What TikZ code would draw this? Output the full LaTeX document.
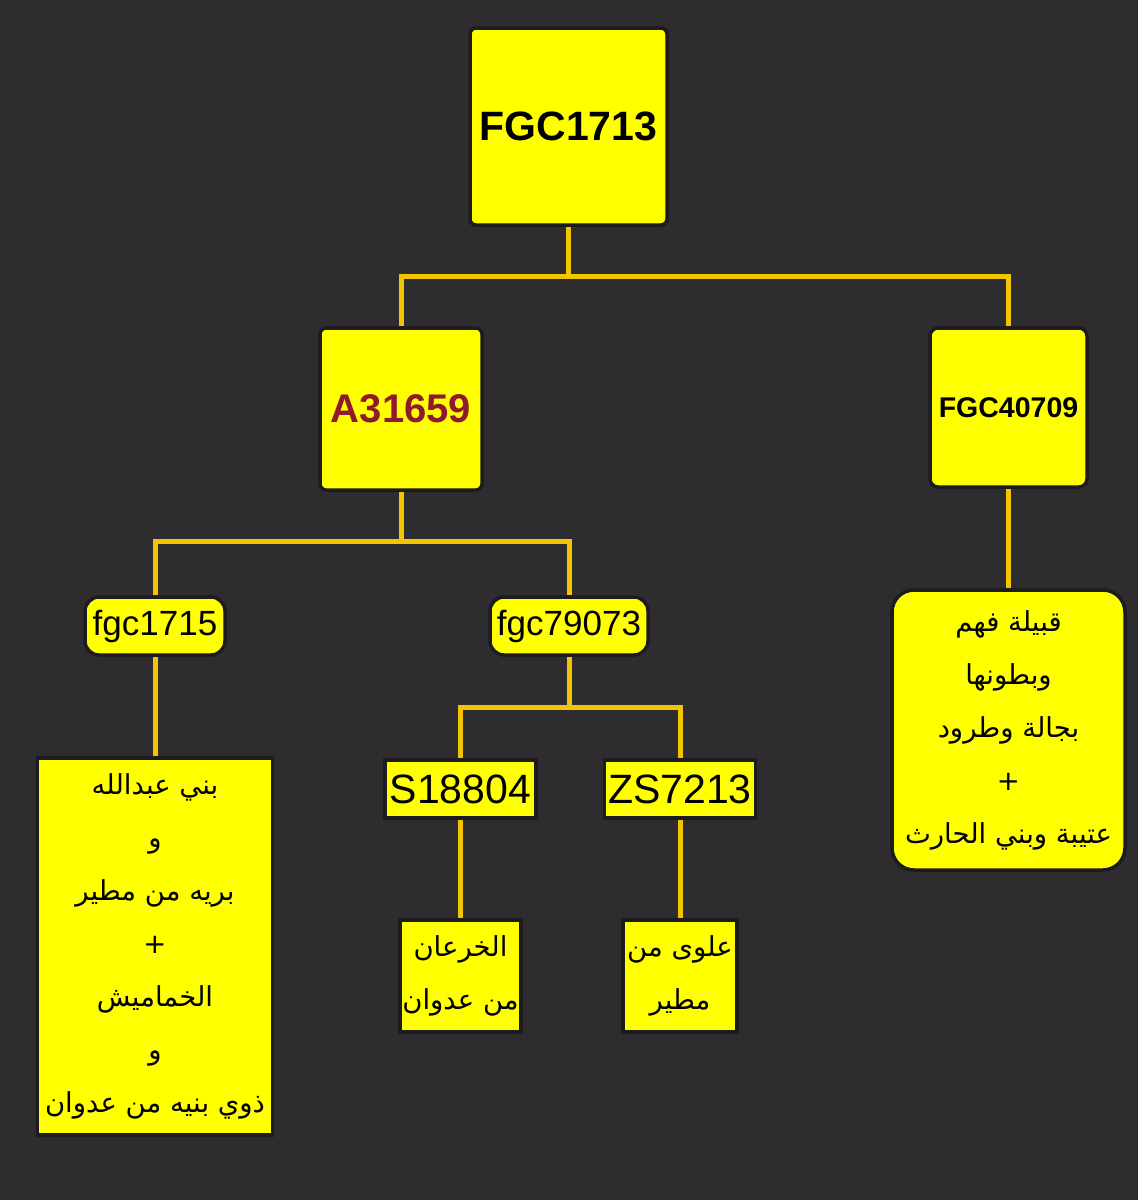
\documentclass[tikz,border=0pt]{standalone}
\usepackage{fontspec}
\setmainfont{Liberation Sans}
\newfontfamily\arabicfont[Script=Arabic]{DejaVu Sans}
\TeXXeTstate=1
\newcommand{\rtl}[1]{\beginR#1\endR}

\definecolor{bgdark}{HTML}{2E2C2F}
\definecolor{boxyellow}{HTML}{FFFF00}
\definecolor{linkgold}{HTML}{F2C500}
\definecolor{edgedark}{HTML}{1C1B1D}
\definecolor{snpred}{HTML}{8E1A2C}

\begin{document}
\begin{tikzpicture}[x=1pt, y=-1pt,
  snp/.style={draw=edgedark, line width=3.5pt, fill=boxyellow, inner sep=0pt, align=center, text=black},
  tribe/.style={snp, font=\arabicfont\fontsize{27.5}{53}\selectfont},
  link/.style={linkgold, line width=5pt}]

  % Background and page size
  \fill[bgdark] (0,0) rectangle (1138,1200);
  \useasboundingbox (0,0) rectangle (1138,1200);

  % Top levels
  \node[snp, rounded corners=6pt, minimum width=197pt, minimum height=197pt,
    font=\bfseries\fontsize{41}{41}\selectfont] (fgc1713) at (568.5,126.5) {FGC1713};
  \node[snp, rounded corners=6pt, minimum width=162pt, minimum height=162pt,
    font=\bfseries\fontsize{40}{40}\selectfont, text=snpred] (a31659) at (401,409) {A31659};
  \node[snp, rounded corners=8pt, minimum width=157pt, minimum height=159pt,
    font=\bfseries\fontsize{28.5}{28.5}\selectfont] (fgc40709) at (1008.5,407.5) {FGC40709};

  % Subclades
  \node[snp, rounded corners=14pt, minimum width=140pt, minimum height=58pt,
    font=\fontsize{35}{35}\selectfont] (fgc1715) at (155,626) {fgc1715};
  \node[snp, rounded corners=14pt, minimum width=158pt, minimum height=58pt,
    font=\fontsize{35}{35}\selectfont] (fgc79073) at (569,626) {fgc79073};
  \node[snp, minimum width=151pt, minimum height=58pt,
    font=\fontsize{41}{41}\selectfont] (s18804) at (460.5,789) {S18804};
  \node[snp, minimum width=151pt, minimum height=58pt,
    font=\fontsize{41}{41}\selectfont] (zs7213) at (680,789) {ZS7213};

  % Tribes
  \node[tribe, minimum width=235pt, minimum height=377pt] (banu) at (155,946.5)
    {\rtl{بني عبدالله}\\ \rtl{و}\\ \rtl{بريه من مطير}\\ +\\ \rtl{الخماميش}\\ \rtl{و}\\ \rtl{ذوي بنيه من عدوان}};
  \node[tribe, minimum width=121pt, minimum height=112pt] (khar) at (460.5,976)
    {\rtl{الخرعان}\\ \rtl{من عدوان}};
  \node[tribe, minimum width=114pt, minimum height=112pt] (alwa) at (680,976)
    {\rtl{علوى من}\\ \rtl{مطير}};
  \node[tribe, rounded corners=22pt, minimum width=233pt, minimum height=280pt] (fahm) at (1008.5,730)
    {\rtl{قبيلة فهم}\\ \rtl{وبطونها}\\ \rtl{بجالة وطرود}\\ +\\ \rtl{عتيبة وبني الحارث}};

  % Connectors
  \coordinate (j1) at (568.5,276);
  \coordinate (j2) at (401,541);
  \coordinate (j3) at (569,707);
  \draw[link] (fgc1713.south) -- (j1);
  \draw[link] (a31659.north) |- (j1) -| (fgc40709.north);
  \draw[link] (a31659.south) -- (j2);
  \draw[link] (fgc1715.north) |- (j2) -| (fgc79073.north);
  \draw[link] (fgc79073.south) -- (j3);
  \draw[link] (s18804.north) |- (j3) -| (zs7213.north);
  \draw[link] (fgc1715.south) -- (banu.north);
  \draw[link] (s18804.south) -- (khar.north);
  \draw[link] (zs7213.south) -- (alwa.north);
  \draw[link] (fgc40709.south) -- (fahm.north);
\end{tikzpicture}
\end{document}
